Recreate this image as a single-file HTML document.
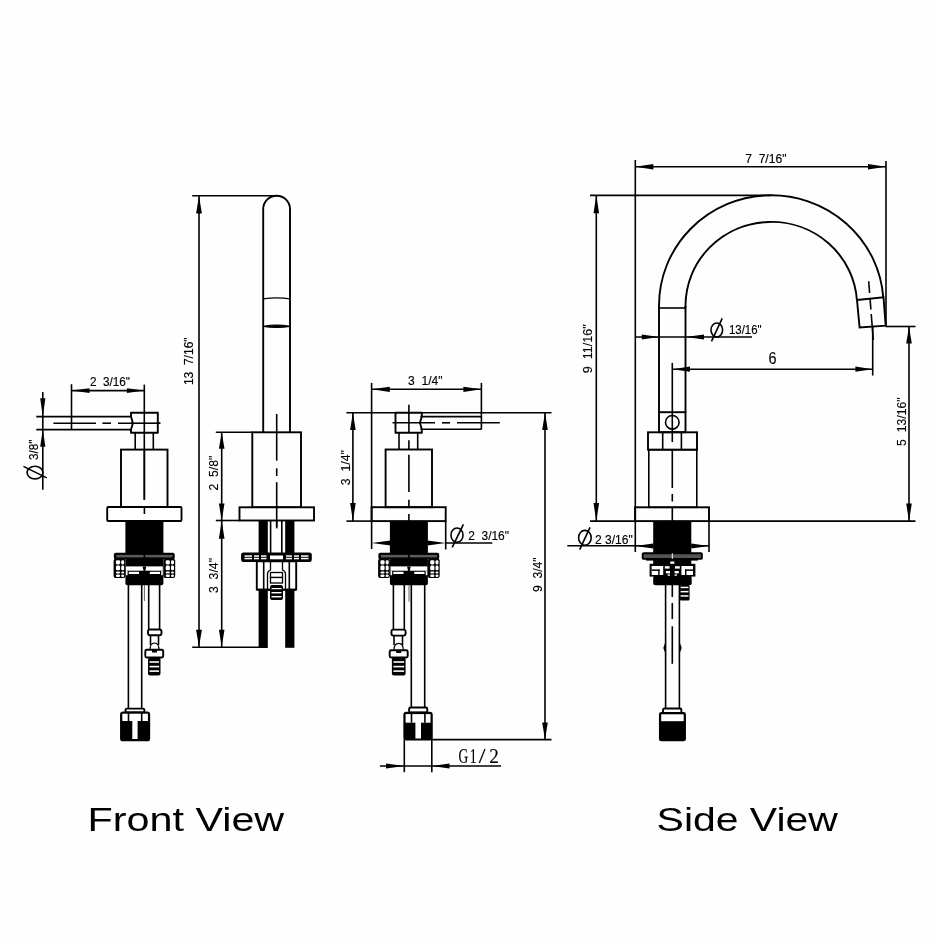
<!DOCTYPE html>
<html><head><meta charset="utf-8"><style>
html,body{margin:0;padding:0;background:#fefefe;}
body{width:933px;height:940px;overflow:hidden;font-family:"Liberation Sans", sans-serif;}
svg{position:absolute;left:0;top:0;will-change:transform;}
</style></head><body>
<svg width="933" height="940" viewBox="0 0 933 940">
<rect x="0" y="0" width="933" height="940" fill="#fefefe"/>
<line x1="42.8" y1="392" x2="42.8" y2="489.8" stroke="#000" stroke-width="1.6" />
<polygon points="42.8,416.6 45.40,398.30 40.20,398.30" fill="#000"/>
<polygon points="42.8,429.6 40.20,446.80 45.40,446.80" fill="#000"/>
<line x1="36.3" y1="416.6" x2="130.8" y2="416.6" stroke="#000" stroke-width="1.6" />
<line x1="36.3" y1="429.6" x2="130.8" y2="429.6" stroke="#000" stroke-width="1.6" />
<line x1="53.4" y1="423.2" x2="96" y2="423.2" stroke="#000" stroke-width="1.6" />
<line x1="102.4" y1="423.2" x2="111" y2="423.2" stroke="#000" stroke-width="1.6" />
<line x1="118" y1="423.2" x2="160.3" y2="423.2" stroke="#000" stroke-width="1.6" />
<line x1="71.5" y1="384.2" x2="71.5" y2="429.6" stroke="#000" stroke-width="1.6" />
<line x1="71.5" y1="390.6" x2="144.3" y2="390.6" stroke="#000" stroke-width="1.6" />
<polygon points="71.5,390.6 89.50,393.00 89.50,388.20" fill="#000"/>
<polygon points="144.3,390.6 126.90,388.20 126.90,393.00" fill="#000"/>
<text x="89.9" y="386.3" font-size="12" font-family='"Liberation Sans", sans-serif' font-weight="normal" text-anchor="start" stroke="#000" stroke-width="0.15" textLength="40.1" lengthAdjust="spacingAndGlyphs" xml:space="preserve">2  3/16&quot;</text>
<ellipse cx="35" cy="472.6" rx="7.9" ry="6.3" fill="none" stroke="#000" stroke-width="1.6"/>
<line x1="23.4" y1="466.4" x2="46.8" y2="477.9" stroke="#000" stroke-width="1.6" />
<text transform="translate(38.3,460) rotate(-90)" x="0" y="0" font-size="12" font-family='"Liberation Sans", sans-serif' font-weight="normal" stroke="#000" stroke-width="0.15" textLength="20.4" lengthAdjust="spacingAndGlyphs" xml:space="preserve">3/8&quot;</text>
<path d="M131,412.8 L157.8,412.8 L157.8,432.7 L131,432.7 L131,429.6 L132.9,423.2 L131,416.6 Z" fill="#fff" stroke="#000" stroke-width="1.9" stroke-linejoin="round"/>
<line x1="144.3" y1="384.6" x2="144.3" y2="499.8" stroke="#000" stroke-width="1.6" />
<line x1="131" y1="423.2" x2="160.3" y2="423.2" stroke="#000" stroke-width="1.6" />
<line x1="135.2" y1="433" x2="135.2" y2="449.6" stroke="#000" stroke-width="1.6" />
<line x1="153.3" y1="433" x2="153.3" y2="449.6" stroke="#000" stroke-width="1.6" />
<rect x="121" y="449.6" width="46.5" height="57.39999999999998" fill="none" stroke="#000" stroke-width="1.9" rx="0"/>
<line x1="144.4" y1="449.6" x2="144.4" y2="499.8" stroke="#000" stroke-width="1.6" />
<rect x="107.2" y="507" width="74.3" height="14" fill="#fff" stroke="#000" stroke-width="1.9" rx="1"/>
<line x1="144.4" y1="507" x2="144.4" y2="514" stroke="#000" stroke-width="1.6" />
<rect x="125.4" y="521" width="38.0" height="32.799999999999955" fill="#000" rx="0"/>
<rect x="114.60000000000001" y="553.6" width="59.39999999999999" height="5.199999999999932" fill="#000" stroke="#000" stroke-width="1.5" rx="1.2"/>
<rect x="116.4" y="554.9" width="27.19999999999999" height="2.5" fill="#5a5a5a" rx="0"/>
<rect x="145.20000000000002" y="554.9" width="27.19999999999999" height="2.5" fill="#5a5a5a" rx="0"/>
<rect x="125.4" y="558.6" width="38.0" height="26.600000000000023" fill="#000" rx="2"/>
<rect x="113.60000000000001" y="558.8" width="11.799999999999997" height="19.200000000000045" fill="#000" rx="2"/>
<rect x="115.9" y="560.2" width="4.200000000000003" height="4.2000000000000455" fill="#fff" rx="1.3"/>
<rect x="121.2" y="560.2" width="3.0" height="4.2000000000000455" fill="#fff" rx="1.3"/>
<rect x="115.9" y="565.6" width="4.200000000000003" height="4.600000000000023" fill="#fff" rx="1.3"/>
<rect x="121.2" y="565.6" width="3.0" height="4.600000000000023" fill="#fff" rx="1.3"/>
<rect x="115.9" y="571.6" width="4.200000000000003" height="2.0" fill="#fff" rx="1.3"/>
<rect x="121.2" y="571.6" width="3.0" height="2.0" fill="#fff" rx="1.3"/>
<rect x="115.9" y="574.6" width="4.200000000000003" height="2.3999999999999773" fill="#fff" rx="1.3"/>
<rect x="121.2" y="574.6" width="3.0" height="2.3999999999999773" fill="#fff" rx="1.3"/>
<rect x="163.4" y="558.8" width="11.800000000000011" height="19.200000000000045" fill="#000" rx="2"/>
<rect x="165.70000000000002" y="560.2" width="4.199999999999989" height="4.2000000000000455" fill="#fff" rx="1.3"/>
<rect x="171.0" y="560.2" width="3.0" height="4.2000000000000455" fill="#fff" rx="1.3"/>
<rect x="165.70000000000002" y="565.6" width="4.199999999999989" height="4.600000000000023" fill="#fff" rx="1.3"/>
<rect x="171.0" y="565.6" width="3.0" height="4.600000000000023" fill="#fff" rx="1.3"/>
<rect x="165.70000000000002" y="571.6" width="4.199999999999989" height="2.0" fill="#fff" rx="1.3"/>
<rect x="171.0" y="571.6" width="3.0" height="2.0" fill="#fff" rx="1.3"/>
<rect x="165.70000000000002" y="574.6" width="4.199999999999989" height="2.3999999999999773" fill="#fff" rx="1.3"/>
<rect x="171.0" y="574.6" width="3.0" height="2.3999999999999773" fill="#fff" rx="1.3"/>
<rect x="126.0" y="566.4" width="36.80000000000001" height="4.300000000000068" fill="#fff" rx="0"/>
<rect x="126.0" y="570.7" width="1.6000000000000085" height="4.5" fill="#fff" rx="0"/>
<rect x="161.20000000000002" y="570.7" width="1.5999999999999943" height="4.5" fill="#fff" rx="0"/>
<path d="M142.6,566.4 L146.20000000000002,566.4 L145.0,572 L143.8,572 Z" fill="#000"/>
<rect x="128.8" y="571.8" width="10.199999999999989" height="2.2000000000000455" fill="#fff" rx="0"/>
<rect x="149.8" y="571.8" width="10.199999999999989" height="2.2000000000000455" fill="#fff" rx="0"/>
<line x1="128.4" y1="585" x2="128.4" y2="708.6" stroke="#000" stroke-width="1.6" />
<line x1="141.7" y1="585" x2="141.7" y2="708.6" stroke="#000" stroke-width="1.6" />
<line x1="148.7" y1="585" x2="148.7" y2="629.5" stroke="#000" stroke-width="1.6" />
<line x1="159.6" y1="585" x2="159.6" y2="629.5" stroke="#000" stroke-width="1.6" />
<line x1="144.4" y1="585" x2="144.4" y2="601" stroke="#666" stroke-width="1" />
<rect x="148" y="629.5" width="13.5" height="5.7999999999999545" fill="#fff" stroke="#000" stroke-width="1.9" rx="2"/>
<line x1="150.5" y1="635.3" x2="150.5" y2="645" stroke="#000" stroke-width="1.6" />
<line x1="158.5" y1="635.3" x2="158.5" y2="645" stroke="#000" stroke-width="1.6" />
<path d="M150,650 Q150,643 154.5,643 Q159,643 159,650" fill="none" stroke="#000" stroke-width="1.2"/>
<rect x="145.3" y="649.8" width="17.899999999999977" height="7.7000000000000455" fill="#fff" stroke="#000" stroke-width="1.9" rx="1.5"/>
<rect x="152" y="649.5" width="5" height="3.0" fill="#000" rx="0"/>
<rect x="148" y="657.5" width="12.5" height="18.0" fill="#000" rx="2"/>
<rect x="149.5" y="661.2" width="9.5" height="1.6000000000000227" fill="#fff" rx="0"/>
<rect x="149.5" y="665.8" width="9.5" height="1.6000000000000227" fill="#fff" rx="0"/>
<rect x="149.5" y="670.3" width="9.5" height="1.6000000000000227" fill="#fff" rx="0"/>
<rect x="125.5" y="708.6" width="18.900000000000006" height="3.7999999999999545" fill="#fff" stroke="#000" stroke-width="1.9" rx="1.5"/>
<rect x="121" y="712.4" width="28.19999999999999" height="28.0" fill="#000" stroke="#000" stroke-width="1.9" rx="2"/>
<rect x="122.3" y="713.7" width="25.60000000000001" height="7.2999999999999545" fill="#fff" rx="0"/>
<line x1="128.5" y1="712.4" x2="128.5" y2="721" stroke="#000" stroke-width="1.6" />
<line x1="141.7" y1="712.4" x2="141.7" y2="721" stroke="#000" stroke-width="1.6" />
<rect x="132.3" y="719.5" width="5.299999999999983" height="19.5" fill="#fff" rx="0"/>
<line x1="192.2" y1="195.7" x2="276.6" y2="195.7" stroke="#000" stroke-width="1.6" />
<line x1="199" y1="195.7" x2="199" y2="647" stroke="#000" stroke-width="1.6" />
<polygon points="199,195.7 196.10,213.40 201.90,213.40" fill="#000"/>
<polygon points="199,647 201.90,629.70 196.10,629.70" fill="#000"/>
<text transform="translate(193.4,385.1) rotate(-90)" x="0" y="0" font-size="13" font-family='"Liberation Sans", sans-serif' font-weight="normal" stroke="#000" stroke-width="0.15" textLength="47.7" lengthAdjust="spacingAndGlyphs" xml:space="preserve">13  7/16&quot;</text>
<path d="M263.2,432.3 L263.2,209.1 A13.4,13.4 0 0 1 290,209.1 L290,432.3" fill="none" stroke="#000" stroke-width="1.9"/>
<path d="M263.2,298.8 Q276.6,296.8 290,298.8" fill="none" stroke="#000" stroke-width="1.3"/>
<path d="M263.2,326.4 Q276.6,323.6 290,326.4 Q276.6,328.6 263.2,326.4 Z" fill="#000" stroke="#000" stroke-width="1.2"/>
<line x1="276.7" y1="414" x2="276.7" y2="460.6" stroke="#000" stroke-width="1.6" />
<line x1="276.7" y1="468.3" x2="276.7" y2="476" stroke="#000" stroke-width="1.6" />
<line x1="276.7" y1="482.2" x2="276.7" y2="527" stroke="#000" stroke-width="1.6" />
<rect x="252.3" y="432.3" width="48.69999999999999" height="75.0" fill="none" stroke="#000" stroke-width="1.9" rx="0"/>
<line x1="215.8" y1="432.3" x2="252.3" y2="432.3" stroke="#000" stroke-width="1.6" />
<rect x="239.5" y="507.3" width="74.5" height="13.199999999999989" fill="#fff" stroke="#000" stroke-width="1.9" rx="0"/>
<line x1="276.7" y1="507.3" x2="276.7" y2="528.4" stroke="#000" stroke-width="1.6" />
<line x1="215.8" y1="520.5" x2="239.5" y2="520.5" stroke="#000" stroke-width="1.6" />
<line x1="221.7" y1="432.3" x2="221.7" y2="647" stroke="#000" stroke-width="1.6" />
<polygon points="221.7,432.3 218.90,448.80 224.50,448.80" fill="#000"/>
<polygon points="221.7,520.5 224.50,503.50 218.90,503.50" fill="#000"/>
<polygon points="221.7,520.5 218.90,538.80 224.50,538.80" fill="#000"/>
<polygon points="221.7,647 224.50,629.70 218.90,629.70" fill="#000"/>
<text transform="translate(217.9,490.6) rotate(-90)" x="0" y="0" font-size="13" font-family='"Liberation Sans", sans-serif' font-weight="normal" stroke="#000" stroke-width="0.15" textLength="34.9" lengthAdjust="spacingAndGlyphs" xml:space="preserve">2  5/8&quot;</text>
<text transform="translate(218.3,593) rotate(-90)" x="0" y="0" font-size="13" font-family='"Liberation Sans", sans-serif' font-weight="normal" stroke="#000" stroke-width="0.15" textLength="35" lengthAdjust="spacingAndGlyphs" xml:space="preserve">3  3/4&quot;</text>
<line x1="192.2" y1="647.2" x2="267.6" y2="647.2" stroke="#000" stroke-width="1.6" />
<rect x="258.6" y="520.5" width="9.199999999999989" height="127.29999999999995" fill="#000" rx="0"/>
<rect x="285.2" y="520.5" width="9.199999999999989" height="127.29999999999995" fill="#000" rx="0"/>
<line x1="270.6" y1="520.5" x2="270.6" y2="553.3" stroke="#000" stroke-width="1.6" />
<line x1="281.8" y1="520.5" x2="281.8" y2="553.3" stroke="#000" stroke-width="1.6" />
<rect x="241.9" y="553.3" width="69.1" height="8.0" fill="#000" stroke="#000" stroke-width="1.6" rx="1.5"/>
<rect x="244.5" y="555.3" width="7.5" height="1.5" fill="#fff" rx="0"/>
<rect x="244.5" y="557.8" width="7.5" height="1.5" fill="#fff" rx="0"/>
<rect x="254" y="555.3" width="5" height="1.5" fill="#fff" rx="0"/>
<rect x="254" y="557.8" width="5" height="1.5" fill="#fff" rx="0"/>
<rect x="261" y="555.3" width="5.5" height="1.5" fill="#fff" rx="0"/>
<rect x="261" y="557.8" width="5.5" height="1.5" fill="#fff" rx="0"/>
<rect x="286" y="555.3" width="6" height="1.5" fill="#fff" rx="0"/>
<rect x="286" y="557.8" width="6" height="1.5" fill="#fff" rx="0"/>
<rect x="294" y="555.3" width="5" height="1.5" fill="#fff" rx="0"/>
<rect x="294" y="557.8" width="5" height="1.5" fill="#fff" rx="0"/>
<rect x="301" y="555.3" width="7.5" height="1.5" fill="#fff" rx="0"/>
<rect x="301" y="557.8" width="7.5" height="1.5" fill="#fff" rx="0"/>
<rect x="270" y="555.5" width="13" height="3.7999999999999545" fill="#fff" rx="0"/>
<rect x="256.8" y="561.3" width="39.39999999999998" height="28.200000000000045" fill="#fff" stroke="#000" stroke-width="1.9" rx="0"/>
<line x1="263.7" y1="561.3" x2="263.7" y2="589.5" stroke="#000" stroke-width="1.6" />
<line x1="289.3" y1="561.3" x2="289.3" y2="589.5" stroke="#000" stroke-width="1.6" />
<path d="M270.5,561.3 L270.5,570 Q267.5,571 267.5,574 L267.5,589.5 M282.5,561.3 L282.5,570 Q285.5,571 285.5,574 L285.5,589.5" fill="none" stroke="#000" stroke-width="1.3"/>
<rect x="270.5" y="572.5" width="12.0" height="5.0" fill="#fff" stroke="#000" stroke-width="1.3" rx="0"/>
<rect x="270.5" y="577.5" width="12.0" height="5.5" fill="#fff" stroke="#000" stroke-width="1.3" rx="0"/>
<rect x="270" y="585" width="13" height="15" fill="#000" rx="2"/>
<rect x="271.5" y="588" width="10.0" height="1.3999999999999773" fill="#fff" rx="0"/>
<rect x="271.5" y="592" width="10.0" height="1.3999999999999773" fill="#fff" rx="0"/>
<rect x="271.5" y="596" width="10.0" height="1.3999999999999773" fill="#fff" rx="0"/>
<rect x="256.8" y="589.5" width="39.39999999999998" height="1.2999999999999545" fill="#000" rx="0"/>
<line x1="371.6" y1="382.9" x2="371.6" y2="549" stroke="#000" stroke-width="1.6" />
<line x1="481.4" y1="382.9" x2="481.4" y2="429.5" stroke="#000" stroke-width="1.6" />
<line x1="371.6" y1="389.3" x2="481.4" y2="389.3" stroke="#000" stroke-width="1.6" />
<polygon points="371.6,389.3 389.80,391.90 389.80,386.70" fill="#000"/>
<polygon points="481.4,389.3 463.40,386.70 463.40,391.90" fill="#000"/>
<text x="408" y="385" font-size="12" font-family='"Liberation Sans", sans-serif' font-weight="normal" text-anchor="start" stroke="#000" stroke-width="0.15" textLength="34.5" lengthAdjust="spacingAndGlyphs" xml:space="preserve">3  1/4&quot;</text>
<line x1="346.4" y1="412.7" x2="551.5" y2="412.7" stroke="#000" stroke-width="1.6" />
<line x1="352.9" y1="412.7" x2="352.9" y2="521.1" stroke="#000" stroke-width="1.6" />
<polygon points="352.9,412.7 350.10,430.00 355.70,430.00" fill="#000"/>
<polygon points="352.9,521.1 355.70,502.90 350.10,502.90" fill="#000"/>
<text transform="translate(350.1,485.2) rotate(-90)" x="0" y="0" font-size="13" font-family='"Liberation Sans", sans-serif' font-weight="normal" stroke="#000" stroke-width="0.15" textLength="35" lengthAdjust="spacingAndGlyphs" xml:space="preserve">3  1/4&quot;</text>
<path d="M395.5,412.7 L421.8,412.7 L421.8,416.6 L419.9,422.8 L421.8,429.3 L421.8,432.7 L395.5,432.7 Z" fill="#fff" stroke="#000" stroke-width="1.9" stroke-linejoin="round"/>
<line x1="408.9" y1="404.8" x2="408.9" y2="433" stroke="#000" stroke-width="1.6" />
<line x1="408.9" y1="440.2" x2="408.9" y2="449.3" stroke="#000" stroke-width="1.6" />
<line x1="408.9" y1="454.7" x2="408.9" y2="492" stroke="#000" stroke-width="1.6" />
<line x1="408.9" y1="499.7" x2="408.9" y2="507" stroke="#000" stroke-width="1.6" />
<line x1="408.9" y1="514" x2="408.9" y2="521" stroke="#000" stroke-width="1.6" />
<line x1="392.5" y1="422.8" x2="435" y2="422.8" stroke="#000" stroke-width="1.6" />
<line x1="442" y1="422.8" x2="450" y2="422.8" stroke="#000" stroke-width="1.6" />
<line x1="457" y1="422.8" x2="499.8" y2="422.8" stroke="#000" stroke-width="1.6" />
<line x1="420.5" y1="416.6" x2="481.4" y2="416.6" stroke="#000" stroke-width="1.6" />
<line x1="420.5" y1="429.3" x2="481.4" y2="429.3" stroke="#000" stroke-width="1.6" />
<line x1="399" y1="432.7" x2="399" y2="449.5" stroke="#000" stroke-width="1.6" />
<line x1="417.7" y1="432.7" x2="417.7" y2="449.5" stroke="#000" stroke-width="1.6" />
<rect x="385.6" y="449.5" width="46.39999999999998" height="57.69999999999999" fill="none" stroke="#000" stroke-width="1.9" rx="0"/>
<rect x="371.6" y="507.2" width="74.09999999999997" height="13.900000000000034" fill="none" stroke="#000" stroke-width="1.9" rx="0"/>
<line x1="346.4" y1="521.1" x2="371.6" y2="521.1" stroke="#000" stroke-width="1.6" />
<line x1="445.7" y1="521" x2="445.7" y2="549.5" stroke="#000" stroke-width="1.6" />
<rect x="389.9" y="521" width="38.0" height="32.799999999999955" fill="#000" rx="0"/>
<rect x="379.09999999999997" y="553.6" width="59.400000000000034" height="5.199999999999932" fill="#000" stroke="#000" stroke-width="1.5" rx="1.2"/>
<rect x="380.9" y="554.9" width="27.19999999999999" height="2.5" fill="#5a5a5a" rx="0"/>
<rect x="409.7" y="554.9" width="27.19999999999999" height="2.5" fill="#5a5a5a" rx="0"/>
<rect x="389.9" y="558.6" width="38.0" height="26.600000000000023" fill="#000" rx="2"/>
<rect x="378.09999999999997" y="558.8" width="11.800000000000011" height="19.200000000000045" fill="#000" rx="2"/>
<rect x="380.4" y="560.2" width="4.199999999999989" height="4.2000000000000455" fill="#fff" rx="1.3"/>
<rect x="385.7" y="560.2" width="3.0" height="4.2000000000000455" fill="#fff" rx="1.3"/>
<rect x="380.4" y="565.6" width="4.199999999999989" height="4.600000000000023" fill="#fff" rx="1.3"/>
<rect x="385.7" y="565.6" width="3.0" height="4.600000000000023" fill="#fff" rx="1.3"/>
<rect x="380.4" y="571.6" width="4.199999999999989" height="2.0" fill="#fff" rx="1.3"/>
<rect x="385.7" y="571.6" width="3.0" height="2.0" fill="#fff" rx="1.3"/>
<rect x="380.4" y="574.6" width="4.199999999999989" height="2.3999999999999773" fill="#fff" rx="1.3"/>
<rect x="385.7" y="574.6" width="3.0" height="2.3999999999999773" fill="#fff" rx="1.3"/>
<rect x="427.9" y="558.8" width="11.800000000000011" height="19.200000000000045" fill="#000" rx="2"/>
<rect x="430.2" y="560.2" width="4.199999999999989" height="4.2000000000000455" fill="#fff" rx="1.3"/>
<rect x="435.5" y="560.2" width="3.0" height="4.2000000000000455" fill="#fff" rx="1.3"/>
<rect x="430.2" y="565.6" width="4.199999999999989" height="4.600000000000023" fill="#fff" rx="1.3"/>
<rect x="435.5" y="565.6" width="3.0" height="4.600000000000023" fill="#fff" rx="1.3"/>
<rect x="430.2" y="571.6" width="4.199999999999989" height="2.0" fill="#fff" rx="1.3"/>
<rect x="435.5" y="571.6" width="3.0" height="2.0" fill="#fff" rx="1.3"/>
<rect x="430.2" y="574.6" width="4.199999999999989" height="2.3999999999999773" fill="#fff" rx="1.3"/>
<rect x="435.5" y="574.6" width="3.0" height="2.3999999999999773" fill="#fff" rx="1.3"/>
<rect x="390.5" y="566.4" width="36.799999999999955" height="4.300000000000068" fill="#fff" rx="0"/>
<rect x="390.5" y="570.7" width="1.599999999999966" height="4.5" fill="#fff" rx="0"/>
<rect x="425.7" y="570.7" width="1.599999999999966" height="4.5" fill="#fff" rx="0"/>
<path d="M407.09999999999997,566.4 L410.7,566.4 L409.5,572 L408.29999999999995,572 Z" fill="#000"/>
<rect x="393.29999999999995" y="571.8" width="10.200000000000045" height="2.2000000000000455" fill="#fff" rx="0"/>
<rect x="414.29999999999995" y="571.8" width="10.200000000000045" height="2.2000000000000455" fill="#fff" rx="0"/>
<polygon points="371.6,543 390.50,545.50 390.50,540.50" fill="#000"/>
<polygon points="445.7,543 427.50,540.50 427.50,545.50" fill="#000"/>
<line x1="445.7" y1="543" x2="492.3" y2="543" stroke="#000" stroke-width="1.6" />
<ellipse cx="457" cy="535.2" rx="6" ry="7.2" fill="none" stroke="#000" stroke-width="1.6"/>
<line x1="452.2" y1="547.4" x2="463.4" y2="524.3" stroke="#000" stroke-width="1.6" />
<text x="468.2" y="539.8" font-size="13.5" font-family='"Liberation Sans", sans-serif' font-weight="normal" text-anchor="start" stroke="#000" stroke-width="0.15" textLength="40.8" lengthAdjust="spacingAndGlyphs" xml:space="preserve">2  3/16&quot;</text>
<line x1="393.4" y1="585" x2="393.4" y2="629.6" stroke="#000" stroke-width="1.6" />
<line x1="404.3" y1="585" x2="404.3" y2="629.6" stroke="#000" stroke-width="1.6" />
<line x1="411.3" y1="585" x2="411.3" y2="710" stroke="#000" stroke-width="1.6" />
<line x1="424.7" y1="585" x2="424.7" y2="710" stroke="#000" stroke-width="1.6" />
<line x1="409" y1="585" x2="409" y2="601.6" stroke="#666" stroke-width="1" />
<rect x="391.4" y="629.6" width="14.200000000000045" height="6.0" fill="#fff" stroke="#000" stroke-width="1.9" rx="2"/>
<line x1="394" y1="635.6" x2="394" y2="645" stroke="#000" stroke-width="1.6" />
<line x1="402.5" y1="635.6" x2="402.5" y2="645" stroke="#000" stroke-width="1.6" />
<path d="M394,650 Q394,643.3 398.7,643.3 Q403.3,643.3 403.3,650" fill="none" stroke="#000" stroke-width="1.2"/>
<rect x="389.7" y="650.2" width="18.0" height="7.2999999999999545" fill="#fff" stroke="#000" stroke-width="1.9" rx="1.5"/>
<rect x="396.2" y="650" width="5.0" height="3" fill="#000" rx="0"/>
<rect x="391.9" y="657.5" width="13.700000000000045" height="18.0" fill="#000" rx="2"/>
<rect x="393.4" y="661.2" width="10.700000000000045" height="1.6000000000000227" fill="#fff" rx="0"/>
<rect x="393.4" y="665.8" width="10.700000000000045" height="1.6000000000000227" fill="#fff" rx="0"/>
<rect x="393.4" y="670.3" width="10.700000000000045" height="1.6000000000000227" fill="#fff" rx="0"/>
<rect x="409.1" y="707.5" width="18.19999999999999" height="5.0" fill="#fff" stroke="#000" stroke-width="1.9" rx="1.5"/>
<rect x="404.3" y="712.8" width="27.5" height="26.700000000000045" fill="#000" stroke="#000" stroke-width="1.9" rx="2"/>
<rect x="405.6" y="714.1" width="24.899999999999977" height="8.600000000000023" fill="#fff" rx="0"/>
<line x1="411.5" y1="712.8" x2="411.5" y2="722.7" stroke="#000" stroke-width="1.6" />
<line x1="424.9" y1="712.8" x2="424.9" y2="722.7" stroke="#000" stroke-width="1.6" />
<rect x="415.4" y="721" width="5.600000000000023" height="17.5" fill="#fff" rx="0"/>
<line x1="431.8" y1="739.6" x2="551.5" y2="739.6" stroke="#000" stroke-width="1.6" />
<line x1="545" y1="412.7" x2="545" y2="739.7" stroke="#000" stroke-width="1.6" />
<polygon points="545,412.7 542.20,430.00 547.80,430.00" fill="#000"/>
<polygon points="545,739.7 547.80,722.60 542.20,722.60" fill="#000"/>
<text transform="translate(541.5,592) rotate(-90)" x="0" y="0" font-size="13" font-family='"Liberation Sans", sans-serif' font-weight="normal" stroke="#000" stroke-width="0.15" textLength="34.6" lengthAdjust="spacingAndGlyphs" xml:space="preserve">9  3/4&quot;</text>
<line x1="404.3" y1="739.5" x2="404.3" y2="772.2" stroke="#000" stroke-width="1.6" />
<line x1="431.8" y1="739.5" x2="431.8" y2="772.2" stroke="#000" stroke-width="1.6" />
<line x1="379.9" y1="766" x2="501.1" y2="766" stroke="#000" stroke-width="1.6" />
<polygon points="404.3,766 386.00,763.40 386.00,768.60" fill="#000"/>
<polygon points="431.8,766 449.50,768.60 449.50,763.40" fill="#000"/>
<text x="458.6" y="762.5" font-size="20" font-family='"Liberation Serif", serif' textLength="9.70" lengthAdjust="spacingAndGlyphs" stroke="#000" stroke-width="0.15">G</text>
<text x="469.7" y="762.5" font-size="20" font-family='"Liberation Serif", serif' textLength="6.90" lengthAdjust="spacingAndGlyphs" stroke="#000" stroke-width="0.15">1</text>
<text x="478.8" y="762.5" font-size="20" font-family='"Liberation Serif", serif' textLength="6.80" lengthAdjust="spacingAndGlyphs" stroke="#000" stroke-width="0.15">/</text>
<text x="489.3" y="762.5" font-size="20" font-family='"Liberation Serif", serif' textLength="9.60" lengthAdjust="spacingAndGlyphs" stroke="#000" stroke-width="0.15">2</text>
<line x1="635.3" y1="160" x2="635.3" y2="552" stroke="#000" stroke-width="1.6" />
<line x1="886" y1="161" x2="886" y2="325.6" stroke="#000" stroke-width="1.6" />
<line x1="635.3" y1="166.8" x2="886" y2="166.8" stroke="#000" stroke-width="1.6" />
<polygon points="635.3,166.8 653.30,169.60 653.30,164.00" fill="#000"/>
<polygon points="886,166.8 868.00,164.00 868.00,169.60" fill="#000"/>
<text x="745.2" y="162.5" font-size="13" font-family='"Liberation Sans", sans-serif' font-weight="normal" text-anchor="start" stroke="#000" stroke-width="0.15" textLength="41.3" lengthAdjust="spacingAndGlyphs" xml:space="preserve">7  7/16&quot;</text>
<line x1="590" y1="195.4" x2="771" y2="195.4" stroke="#000" stroke-width="1.6" />
<line x1="596.3" y1="195.4" x2="596.3" y2="521.1" stroke="#000" stroke-width="1.6" />
<polygon points="596.3,195.4 593.50,213.30 599.10,213.30" fill="#000"/>
<polygon points="596.3,521.1 599.10,503.00 593.50,503.00" fill="#000"/>
<text transform="translate(592,373.2) rotate(-90)" x="0" y="0" font-size="13" font-family='"Liberation Sans", sans-serif' font-weight="normal" stroke="#000" stroke-width="0.15" textLength="48.8" lengthAdjust="spacingAndGlyphs" xml:space="preserve">9  11/16&quot;</text>
<path d="M659,308 L659,305.5 A112.3,110.3 0 0 1 883.3,297.5" fill="none" stroke="#000" stroke-width="1.9"/>
<path d="M685.5,308 L685.5,305.5 A85.8,83.8 0 0 1 856.9,300" fill="none" stroke="#000" stroke-width="1.9"/>
<polygon points="857,300 883.5,297.3 885.7,325.6 859.6,327.5" fill="none" stroke="#000" stroke-width="1.9"/>
<line x1="868.7" y1="281.3" x2="869.6" y2="293" stroke="#000" stroke-width="1.6" />
<line x1="870" y1="298" x2="870.9" y2="309.5" stroke="#000" stroke-width="1.6" />
<line x1="871.2" y1="314" x2="873.3" y2="340" stroke="#000" stroke-width="1.6" />
<line x1="885.5" y1="326.5" x2="915.5" y2="326.5" stroke="#000" stroke-width="1.6" />
<line x1="909" y1="326.5" x2="909" y2="521.1" stroke="#000" stroke-width="1.6" />
<polygon points="909,326.5 906.20,343.60 911.80,343.60" fill="#000"/>
<polygon points="909,521.1 911.80,503.50 906.20,503.50" fill="#000"/>
<text transform="translate(905.5,445.9) rotate(-90)" x="0" y="0" font-size="13" font-family='"Liberation Sans", sans-serif' font-weight="normal" stroke="#000" stroke-width="0.15" textLength="48.5" lengthAdjust="spacingAndGlyphs" xml:space="preserve">5  13/16&quot;</text>
<line x1="659" y1="306" x2="659" y2="412.2" stroke="#000" stroke-width="1.9" />
<line x1="685.5" y1="306" x2="685.5" y2="412.2" stroke="#000" stroke-width="1.9" />
<line x1="659" y1="308" x2="685.5" y2="308" stroke="#000" stroke-width="1.6" />
<line x1="635.4" y1="337" x2="752" y2="337" stroke="#000" stroke-width="1.6" />
<polygon points="659,337 641.80,334.40 641.80,339.60" fill="#000"/>
<polygon points="685.5,337 704.00,339.60 704.00,334.40" fill="#000"/>
<ellipse cx="716.8" cy="330" rx="5.8" ry="7" fill="none" stroke="#000" stroke-width="1.6"/>
<line x1="711.5" y1="341.4" x2="722.2" y2="318.4" stroke="#000" stroke-width="1.6" />
<text x="729" y="334.3" font-size="12" font-family='"Liberation Sans", sans-serif' font-weight="normal" text-anchor="start" stroke="#000" stroke-width="0.15" textLength="32.6" lengthAdjust="spacingAndGlyphs" xml:space="preserve">13/16&quot;</text>
<line x1="672.3" y1="362.9" x2="672.3" y2="442" stroke="#000" stroke-width="1.6" />
<line x1="672.3" y1="369.2" x2="872.7" y2="369.2" stroke="#000" stroke-width="1.6" />
<polygon points="672.3,369.2 690.00,371.80 690.00,366.60" fill="#000"/>
<polygon points="872.7,369.2 855.40,366.60 855.40,371.80" fill="#000"/>
<line x1="872.7" y1="326.5" x2="872.7" y2="375.5" stroke="#000" stroke-width="1.6" />
<text x="768.6" y="364.3" font-size="16.5" font-family='"Liberation Sans", sans-serif' font-weight="normal" text-anchor="start" stroke="#000" stroke-width="0.15" textLength="8" lengthAdjust="spacingAndGlyphs" xml:space="preserve">6</text>
<rect x="659" y="412.2" width="26.5" height="20.0" fill="none" stroke="#000" stroke-width="1.9" rx="0"/>
<circle cx="672.3" cy="422.3" r="6.8" fill="none" stroke="#000" stroke-width="1.6"/>
<rect x="648" y="432.3" width="49" height="17.399999999999977" fill="none" stroke="#000" stroke-width="1.9" rx="0"/>
<line x1="662.7" y1="432.3" x2="662.7" y2="449.7" stroke="#000" stroke-width="1.6" />
<line x1="681.4" y1="432.3" x2="681.4" y2="449.7" stroke="#000" stroke-width="1.6" />
<rect x="648.8" y="449.7" width="48.0" height="57.60000000000002" fill="none" stroke="#000" stroke-width="1.6" rx="0"/>
<line x1="672.3" y1="449.7" x2="672.3" y2="488" stroke="#000" stroke-width="1.6" />
<line x1="672.3" y1="494" x2="672.3" y2="501.5" stroke="#000" stroke-width="1.6" />
<rect x="635.1" y="507.3" width="73.89999999999998" height="13.800000000000011" fill="none" stroke="#000" stroke-width="1.9" rx="0"/>
<line x1="672.3" y1="507.3" x2="672.3" y2="521.1" stroke="#000" stroke-width="1.6" />
<line x1="590" y1="521.1" x2="635.1" y2="521.1" stroke="#000" stroke-width="1.6" />
<line x1="709" y1="521.1" x2="915.5" y2="521.1" stroke="#000" stroke-width="1.6" />
<line x1="709" y1="521.1" x2="709" y2="552" stroke="#000" stroke-width="1.6" />
<rect x="653.2" y="521" width="38.09999999999991" height="32.5" fill="#000" rx="0"/>
<line x1="567.3" y1="545.8" x2="709" y2="545.8" stroke="#000" stroke-width="1.6" />
<polygon points="635.1,546 653.20,548.50 653.20,543.50" fill="#000"/>
<polygon points="709,546 691.30,543.50 691.30,548.50" fill="#000"/>
<ellipse cx="584.9" cy="537.8" rx="6.3" ry="7.4" fill="none" stroke="#000" stroke-width="1.6"/>
<line x1="579.7" y1="549.6" x2="590" y2="527.3" stroke="#000" stroke-width="1.6" />
<text x="595" y="544" font-size="12.5" font-family='"Liberation Sans", sans-serif' font-weight="normal" text-anchor="start" stroke="#000" stroke-width="0.15" textLength="37.7" lengthAdjust="spacingAndGlyphs" xml:space="preserve">2 3/16&quot;</text>
<rect x="642.7" y="553.3" width="59.19999999999993" height="5.600000000000023" fill="#555" stroke="#000" stroke-width="1.9" rx="1"/>
<line x1="672.3" y1="553.3" x2="672.3" y2="558.9" stroke="#fff" stroke-width="1" />
<rect x="646" y="558.9" width="52" height="1.7000000000000455" fill="#000" rx="0"/>
<rect x="653.2" y="560" width="38.09999999999991" height="5" fill="#000" rx="0"/>
<rect x="670.3" y="561.5" width="4.0" height="2.5" fill="#fff" rx="0"/>
<rect x="650.2" y="564.4" width="44.59999999999991" height="11.600000000000023" fill="#000" stroke="#000" stroke-width="1.2" rx="0"/>
<rect x="651.6" y="566" width="11.600000000000023" height="9" fill="#fff" rx="0"/>
<rect x="681.4" y="566" width="11.600000000000023" height="9" fill="#fff" rx="0"/>
<rect x="664.8" y="566.2" width="4.800000000000068" height="2.3999999999999773" fill="#fff" rx="0"/>
<rect x="675" y="566.2" width="4.7999999999999545" height="2.3999999999999773" fill="#fff" rx="0"/>
<rect x="665.8" y="571" width="4.2000000000000455" height="2.3999999999999773" fill="#fff" rx="0"/>
<rect x="674.6" y="571" width="4.199999999999932" height="2.3999999999999773" fill="#fff" rx="0"/>
<rect x="667.6" y="574.4" width="2.3999999999999773" height="1.6000000000000227" fill="#fff" rx="0"/>
<rect x="674.6" y="574.4" width="2.3999999999999773" height="1.6000000000000227" fill="#fff" rx="0"/>
<rect x="651.6" y="569.4" width="8.0" height="1.5" fill="#000" rx="0"/>
<rect x="658.2" y="569.4" width="1.3999999999999773" height="5.600000000000023" fill="#000" rx="0"/>
<rect x="685" y="569.4" width="8" height="1.5" fill="#000" rx="0"/>
<rect x="685" y="569.4" width="1.3999999999999773" height="5.600000000000023" fill="#000" rx="0"/>
<rect x="653.2" y="575.8" width="38.5" height="9.400000000000091" fill="#000" rx="2"/>
<line x1="665.6" y1="585" x2="665.6" y2="708.5" stroke="#000" stroke-width="1.6" />
<line x1="679.4" y1="585" x2="679.4" y2="708.5" stroke="#000" stroke-width="1.6" />
<line x1="672.3" y1="585" x2="672.3" y2="597" stroke="#000" stroke-width="1.6" />
<line x1="672.3" y1="603" x2="672.3" y2="619" stroke="#000" stroke-width="1.6" />
<line x1="672.3" y1="626.3" x2="672.3" y2="663.8" stroke="#000" stroke-width="1.6" />
<rect x="679.7" y="585" width="9.899999999999977" height="15.5" fill="#000" rx="1.5"/>
<rect x="680.6" y="586.7" width="7.7999999999999545" height="1.5" fill="#fff" rx="0"/>
<rect x="680.6" y="590.9" width="7.7999999999999545" height="1.5" fill="#fff" rx="0"/>
<rect x="680.6" y="595.2" width="7.7999999999999545" height="1.5" fill="#fff" rx="0"/>
<path d="M665,643 L663.3,648 L665,652.6 Z" fill="#000"/>
<path d="M680,643 L681.7,648 L680,652.6 Z" fill="#000"/>
<rect x="663" y="708.5" width="18.399999999999977" height="4.5" fill="#fff" stroke="#000" stroke-width="1.9" rx="1.5"/>
<rect x="659.9" y="713" width="25.100000000000023" height="27.399999999999977" fill="#000" stroke="#000" stroke-width="1.9" rx="1.5"/>
<rect x="661.2" y="714.3" width="22.5" height="6.900000000000091" fill="#fff" rx="0"/>
<text x="87.6" y="831.3" font-size="34" font-family='"Liberation Sans", sans-serif' font-weight="normal" text-anchor="start" stroke="#000" stroke-width="0" textLength="196.6" lengthAdjust="spacingAndGlyphs" xml:space="preserve">Front View</text>
<text x="656.6" y="831.3" font-size="34" font-family='"Liberation Sans", sans-serif' font-weight="normal" text-anchor="start" stroke="#000" stroke-width="0" textLength="181.2" lengthAdjust="spacingAndGlyphs" xml:space="preserve">Side View</text>
</svg>
</body></html>
